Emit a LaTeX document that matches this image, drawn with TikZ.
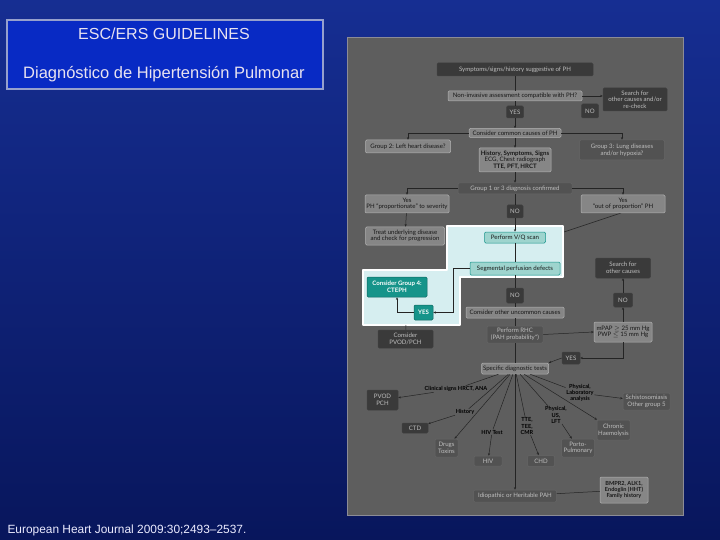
\documentclass[tikz,border=0pt]{standalone}
\usepackage{fontspec}
\setmainfont{Liberation Sans}
\newfontfamily\chartfont{Lato}
\usetikzlibrary{arrows.meta}
\definecolor{slidetop}{RGB}{22,46,146}
\definecolor{slidebot}{RGB}{8,22,92}
\definecolor{titlefill}{RGB}{8,42,196}
\definecolor{titleedge}{RGB}{150,160,205}
\definecolor{titletext}{RGB}{232,226,240}
\definecolor{panelfill}{RGB}{94,94,94}
\definecolor{paneledge}{RGB}{140,140,150}
\definecolor{darkfill}{RGB}{58,58,58}
\definecolor{midfill}{RGB}{82,82,82}
\definecolor{lightfill}{RGB}{134,134,134}
\definecolor{lighttext}{RGB}{190,190,190}
\definecolor{darktext}{RGB}{24,24,24}
\definecolor{linecol}{RGB}{36,36,36}
\definecolor{hlfill}{RGB}{214,238,240}
\definecolor{tealpale}{RGB}{158,212,206}
\definecolor{tealdeep}{RGB}{22,148,138}
\tikzset{%
  chart/.style={%
    font=\chartfont\fontsize{6.1}{6.6}\selectfont,
    inner sep=0.5pt, align=center, rounded corners=1.2pt, line width=0.5pt},
  boxsize/.style 2 args={minimum width=#1pt, minimum height=#2pt},
  darkbox/.style={chart, fill=darkfill, draw=black!75, text=lighttext},
  midbox/.style={chart, fill=midfill, draw=black!60, text=lighttext},
  lightbox/.style={chart, fill=lightfill, draw=white!70!black, text=darktext},
  paleteal/.style={chart, fill=tealpale, draw=tealdeep, text=darktext},
  deepteal/.style={%
    chart, fill=tealdeep, draw=tealdeep!70!black, text=white,
    font=\chartfont\bfseries\fontsize{6.1}{6.6}\selectfont},
  tag/.style={chart, text=black, font=\chartfont\bfseries\fontsize{5.6}{6.2}\selectfont},
  conn/.style={draw=linecol, line width=0.5pt},
  arr/.style={conn, -{Stealth[length=2.6pt, width=2.2pt]}},
}

\begin{document}
\begin{tikzpicture}[x=1pt, y=-1pt]
    \useasboundingbox (0,0) rectangle (720,540);
    \shade [top color=slidetop, bottom color=slidebot] (0,0) rectangle (720,540);

    \node (title) [draw=titleedge, line width=2pt, fill=titlefill, minimum width=316pt,
      minimum height=69pt, anchor=north west] at (6,19) {};
    \node (ttlone) [text=titletext, font=\fontsize{16}{18}\selectfont] at (164,34) {ESC/ERS GUIDELINES};
    \node (ttltwo) [text=titletext, font=\fontsize{16.5}{18}\selectfont] at (164,74) {Diagnóstico de Hipertensión Pulmonar};
    \node (cite) [anchor=west, text=white!92!blue, font=\fontsize{11.9}{13}\selectfont] at (4,530)
      {European Heart Journal 2009:30;2493--2537.};

    \draw [fill=panelfill, draw=paneledge, line width=1pt] (347,38) rectangle (683,515);
    \coordinate (hledge) at (564,232);
    \coordinate (hlfoot) at (406,325);
    \draw [conn] (621,213) -- (hledge);
    \draw [fill=hlfill, draw=white, line width=1.2pt, line join=round]
      (447,226) -- (563,226) -- (563,277) -- (460,277) -- (460,325) -- (363,325) -- (363,270) -- (447,270) -- cycle;

    \node (symp)     [darkbox,  boxsize={156}{13}] at (515,69.5) {Symptoms/signs/history suggestive of PH};
    \node (noninv)   [lightbox, boxsize={134}{10}] at (515,96) {Non-invasive assessment compatible with PH?};
    \node (searchA)  [darkbox,  boxsize={64}{23}]  at (635,99.5) {Search for\\other causes and/or\\re-check};
    \node (yesA)     [darkbox,  boxsize={17}{12}]  at (515,112) {YES};
    \node (noA)      [darkbox,  boxsize={17}{14}]  at (590,111) {NO};
    \node (common)   [lightbox, boxsize={92}{9}]   at (515,133) {Consider common causes of PH};
    \node (grptwo)   [lightbox, boxsize={85}{13}]  at (408,146.5) {Group 2: Left heart disease?};
    \node (grpthree) [midbox,   boxsize={85}{20}]  at (622,150) {Group 3: Lung diseases\\and/or hypoxia?};
    \node (hist)     [lightbox, boxsize={72}{24}]  at (515,160)
      {\textbf{History, Symptoms, Signs}\\ECG, Chest radiograph\\\textbf{TTE, PFT, HRCT}};
    \node (grpone)   [midbox,   boxsize={114}{11}] at (515,188.5) {Group 1 or 3 diagnosis confirmed};
    \node (prop)     [lightbox, boxsize={84}{18}]  at (407,204) {Yes\\PH “proportionate” to severity};
    \node (outprop)  [lightbox, boxsize={84}{18}]  at (623,204) {Yes\\“out of proportion” PH};
    \node (noB)      [darkbox,  boxsize={16}{13}]  at (515,211.5) {NO};
    \node (treat)    [lightbox, boxsize={79}{18}]  at (405,236) {Treat underlying disease\\and check for progression};
    \node (vq)       [paleteal, boxsize={61}{11}]  at (515,237.5) {Perform V/Q scan};
    \node (segm)     [paleteal, boxsize={90}{13}]  at (515,268.5) {Segmental perfusion defects};
    \node (grpfour)  [deepteal, boxsize={60}{20}]  at (397,287) {Consider Group 4:\\CTEPH};
    \node (yesB)     [deepteal, boxsize={19}{15}]  at (423.5,312.5) {YES};
    \node (pvodc)    [darkbox,  boxsize={55}{18}]  at (405.5,339) {Consider\\PVOD/PCH};
    \node (noC)      [darkbox,  boxsize={17}{15}]  at (515,295.5) {NO};
    \node (uncommon) [lightbox, boxsize={98}{11}]  at (515,312.5) {Consider other uncommon causes};
    \node (rhc)      [midbox,   boxsize={56}{17}]  at (515,334.5) {Perform RHC\\(PAH probability*)};
    \node (mpap)     [lightbox, boxsize={58}{20}]  at (623,332) {mPAP $\geq$ 25 mm Hg\\PWP $\leq$ 15 mm Hg};
    \node (noD)      [darkbox,  boxsize={19}{14}]  at (623,300) {NO};
    \node (searchB)  [darkbox,  boxsize={55}{20}]  at (623,268) {Search for\\other causes};
    \node (yesC)     [darkbox,  boxsize={18}{12}]  at (571,358) {YES};
    \node (spec)     [lightbox, boxsize={67}{11}]  at (515,368.5) {Specific diagnostic tests};
    \node (pvod)     [darkbox,  boxsize={31}{20}]  at (382.5,400) {PVOD\\PCH};
    \node (ctd)      [darkbox,  boxsize={26}{10}]  at (415,428) {CTD};
    \node (drugs)    [midbox,   boxsize={23}{18}]  at (446.5,448) {Drugs\\Toxins};
    \node (hiv)      [midbox,   boxsize={28}{10}]  at (488,461) {HIV};
    \node (chd)      [midbox,   boxsize={27}{11}]  at (541,461) {CHD};
    \node (porto)    [midbox,   boxsize={33}{18}]  at (578,448) {Porto-\\Pulmonary};
    \node (chronic)  [midbox,   boxsize={33}{20}]  at (613.5,430) {Chronic\\Haemolysis};
    \node (schisto)  [midbox,   boxsize={47}{17}]  at (646.5,401.5) {Schistosomiasis\\Other group 5};
    \node (idio)     [midbox,   boxsize={83}{12}]  at (515,496) {Idiopathic or Heritable PAH};
    \node (bmpr)     [lightbox, boxsize={48}{26}, font=\chartfont\bfseries\fontsize{5.6}{6.4}\selectfont]
      at (624,490) {BMPR2, ALK1,\\Endoglin (HHT)\\Family history};

    \node (lclin) [tag] at (456,389) {Clinical signs HRCT, ANA};
    \node (lhist) [tag] at (465,412) {History};
    \node (lhiv)  [tag] at (492,432) {HIV Test};
    \node (ltte)  [tag] at (527,426) {TTE,\\TEE,\\CMR};
    \node (lphys) [tag] at (556,415) {Physical,\\US,\\LFT};
    \node (llab)  [tag] at (580,393) {Physical,\\Laboratory\\analysis};

    \draw [conn] (symp) -- (noninv);
    \draw [arr] (noninv.east) -- (noninv.east -| searchA.west);
    \draw [conn] (noninv) -- (yesA);
    \draw [arr] (yesA) -- (common);
    \draw [arr] (common.west) -| (grptwo.north);
    \draw [arr] (common.east) -| (grpthree.north);
    \draw [arr] (common) -- (hist);
    \draw [arr] (hist) -- (grpone);
    \draw [arr] (grpone.west) -| (prop.north);
    \draw [arr] (grpone.east) -| (outprop.north);
    \draw [conn] (grpone) -- (noB);
    \draw [arr] (noB) -- (vq);
    \draw [arr] (prop) -- (treat);
    \draw [conn] (vq) -- (segm);
    \draw [arr] (segm.west) -- ++(-17,0) |- (yesB.east);
    \draw [arr] (yesB.west) -| (grpfour.south);
    \draw [conn] (hlfoot) -- (pvodc);
    \draw [conn] (segm) -- (noC);
    \draw [conn] (noC) -- (uncommon);
    \draw [conn] (uncommon) -- (rhc);
    \draw [arr] (rhc.east) -- (mpap.west);
    \draw [arr] (mpap) -- (noD);
    \draw [arr] (noD) -- (searchB);
    \draw [arr] (mpap.south) |- (yesC.east);
    \draw [arr] (yesC.west) -- (spec.north east);
    \draw [conn] (rhc) -- (spec);

    \draw [conn] (spec) -- (lclin);
    \draw [arr] (lclin) -- (pvod);
    \draw [conn] (spec) -- (lhist);
    \draw [arr] (lhist) -- (ctd);
    \draw [arr] (spec) -- (drugs);
    \draw [conn] (spec) -- (lhiv);
    \draw [arr] (lhiv) -- (hiv);
    \draw [arr] (spec) -- (idio);
    \draw [conn] (spec) -- (ltte);
    \draw [arr] (ltte) -- (chd);
    \draw [conn] (spec) -- (lphys);
    \draw [arr] (lphys) -- (porto);
    \draw [arr] (spec) -- (chronic);
    \draw [conn] (spec) -- (llab);
    \draw [arr] (llab) -- (schisto);
    \draw [conn] (idio) -- (bmpr);
\end{tikzpicture}
\end{document}
